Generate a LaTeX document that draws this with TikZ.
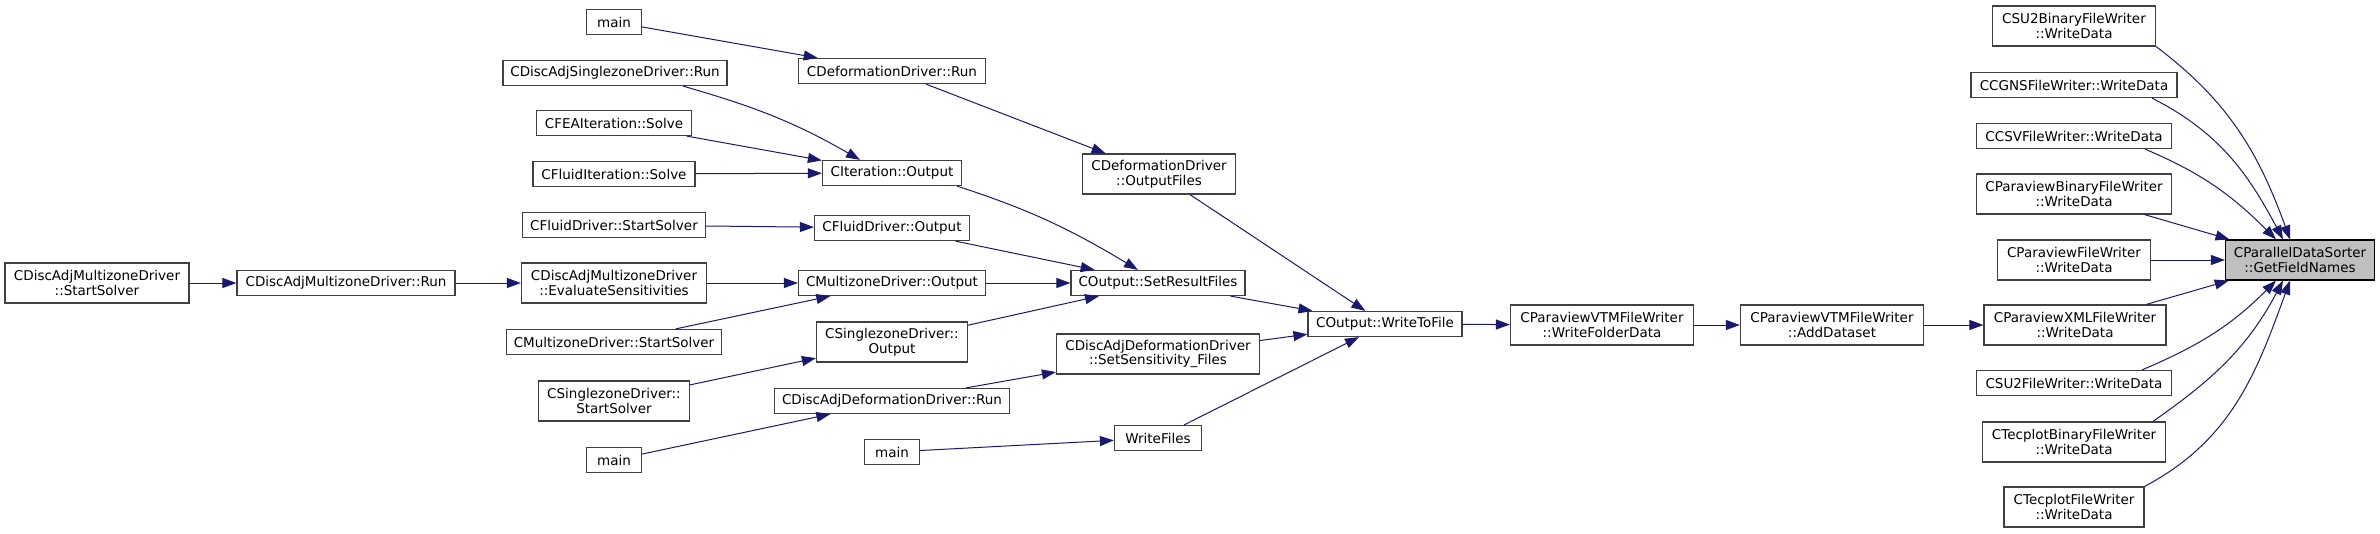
\documentclass[tikz,border=0pt]{standalone}
\usepackage{fontspec}
\setmainfont{DejaVu Sans}
\usetikzlibrary{arrows.meta}
\definecolor{edgeblue}{RGB}{25,25,112}
\definecolor{boxline}{RGB}{64,64,64}
\definecolor{boxgray}{RGB}{191,191,191}

\begin{document}
\begin{tikzpicture}[
    x=1pt, y=-1pt,
    fn/.style={rectangle,draw=boxline,fill=white,line width=1.2pt,inner sep=0pt,
      minimum height=25,align=center,font=\fontsize{13.5}{14.7}\selectfont},
    two/.style={minimum height=40},
    cur/.style={fn,two,fill=boxgray,draw=black},
    arrow/.style={-{Triangle[length=14pt,width=10pt,fill=edgeblue]},draw=edgeblue,line width=1pt}
  ]
    \useasboundingbox (0,0) rectangle (2380,533);
    % leftmost callers
    \node[fn,two,minimum width=184] (damstart) at (97,283) {CDiscAdjMultizoneDriver\\::StartSolver};
    \node[fn,minimum width=218] (damrun) at (346,283) {CDiscAdjMultizoneDriver::Run};
    \node[fn,minimum width=55] (mainA) at (614,22) {main};
    \node[fn,minimum width=224] (dasrun) at (615,73) {CDiscAdjSinglezoneDriver::Run};
    \node[fn,minimum width=155] (feasolve) at (614,123) {CFEAIteration::Solve};
    \node[fn,minimum width=162] (fluidsolve) at (614,174) {CFluidIteration::Solve};
    \node[fn,minimum width=183] (fluidstart) at (614,225) {CFluidDriver::StartSolver};
    \node[fn,two,minimum width=185] (dameval) at (614,283) {CDiscAdjMultizoneDriver\\::EvaluateSensitivities};
    \node[fn,minimum width=215] (mzstart) at (614,342) {CMultizoneDriver::StartSolver};
    \node[fn,two,minimum width=151] (szstart) at (614,401) {CSinglezoneDriver::\\StartSolver};
    \node[fn,minimum width=55] (mainB) at (614,460) {main};
    % drivers
    \node[fn,minimum width=187] (defrun) at (892,71) {CDeformationDriver::Run};
    \node[fn,minimum width=139] (iterout) at (892,173) {CIteration::Output};
    \node[fn,minimum width=155] (fluidout) at (892,228) {CFluidDriver::Output};
    \node[fn,minimum width=187] (mzout) at (892,283) {CMultizoneDriver::Output};
    \node[fn,two,minimum width=151] (szout) at (892,342) {CSinglezoneDriver::\\Output};
    \node[fn,minimum width=235] (dadrun) at (892,401) {CDiscAdjDeformationDriver::Run};
    \node[fn,minimum width=55] (mainC) at (892,452) {main};
    % output
    \node[fn,two,minimum width=153] (defout) at (1159,174) {CDeformationDriver\\::OutputFiles};
    \node[fn,minimum width=174] (setres) at (1158,283) {COutput::SetResultFiles};
    \node[fn,two,minimum width=203] (setsens) at (1158,354) {CDiscAdjDeformationDriver\\::SetSensitivity\_Files};
    \node[fn,minimum width=87] (writefiles) at (1158,438) {WriteFiles};
    \node[fn,minimum width=154] (writeto) at (1385,324) {COutput::WriteToFile};
    \node[fn,two,minimum width=183] (vtmfolder) at (1602,325) {CParaviewVTMFileWriter\\::WriteFolderData};
    \node[fn,two,minimum width=183] (vtmadd) at (1832,325) {CParaviewVTMFileWriter\\::AddDataset};
    % file writers
    \node[fn,two,minimum width=163] (su2bin) at (2074,26) {CSU2BinaryFileWriter\\::WriteData};
    \node[fn,minimum width=206] (cgns) at (2074,85) {CCGNSFileWriter::WriteData};
    \node[fn,minimum width=195] (csv) at (2074,136) {CCSVFileWriter::WriteData};
    \node[fn,two,minimum width=195] (pvbin) at (2074,194) {CParaviewBinaryFileWriter\\::WriteData};
    \node[fn,two,minimum width=153] (pvfile) at (2074,260) {CParaviewFileWriter\\::WriteData};
    \node[fn,two,minimum width=182] (xmlwrite) at (2075,325) {CParaviewXMLFileWriter\\::WriteData};
    \node[fn,minimum width=195] (su2file) at (2074,383) {CSU2FileWriter::WriteData};
    \node[fn,two,minimum width=183] (tecbin) at (2074,442) {CTecplotBinaryFileWriter\\::WriteData};
    \node[fn,two,minimum width=140] (tecfile) at (2074,507) {CTecplotFileWriter\\::WriteData};
    \node[cur,minimum width=149] (getfields) at (2300,260) {CParallelDataSorter\\::GetFieldNames};
    % calls
    \draw[arrow] (damstart) -- (damrun);
    \draw[arrow] (damrun) -- (dameval);
    \draw[arrow] (mainA) -- (defrun);
    \draw[arrow] ([xshift=68]dasrun.south) to[out=-16,in=150] ([xshift=-32]iterout.north);
    \draw[arrow] (feasolve) -- (iterout);
    \draw[arrow] (fluidsolve) -- (iterout);
    \draw[arrow] (fluidstart) -- (fluidout);
    \draw[arrow] (dameval) -- (mzout);
    \draw[arrow] (mzstart) -- (mzout);
    \draw[arrow] (szstart) -- (szout);
    \draw[arrow] (mainB) -- (dadrun);
    \draw[arrow] (defrun) -- (defout);
    \draw[arrow] ([xshift=-5]iterout.south east) to[out=-18,in=149] ([xshift=-20]setres.north);
    \draw[arrow] (fluidout) -- (setres);
    \draw[arrow] (mzout) -- (setres);
    \draw[arrow] (szout) -- (setres);
    \draw[arrow] (dadrun) -- (setsens);
    \draw[arrow] (mainC) -- (writefiles);
    \draw[arrow] (defout) -- (writeto);
    \draw[arrow] (setres) -- (writeto);
    \draw[arrow] (setsens) -- (writeto);
    \draw[arrow] (writefiles) -- (writeto);
    \draw[arrow] (writeto) -- (vtmfolder);
    \draw[arrow] (vtmfolder) -- (vtmadd);
    \draw[arrow] (vtmadd) -- (xmlwrite);
    % writers to the sorter
    \draw[arrow] (su2bin.south east) to[out=-37,in=110] ([xshift=-10]getfields.north);
    \draw[arrow] ([xshift=78]cgns.south) to[out=-27,in=118] ([xshift=-17]getfields.north);
    \draw[arrow] ([xshift=71]csv.south) to[out=-23,in=135] ([xshift=-24]getfields.north);
    \draw[arrow] (pvbin) -- (getfields);
    \draw[arrow] (pvfile) -- (getfields);
    \draw[arrow] (xmlwrite) -- (getfields);
    \draw[arrow] ([xshift=68]su2file.north) to[out=23,in=-135] ([xshift=-24]getfields.south);
    \draw[arrow] ([xshift=79]tecbin.north) to[out=35,in=-118] ([xshift=-17]getfields.south);
    \draw[arrow] (tecfile.north east) to[out=28,in=-110] ([xshift=-10]getfields.south);
  \end{tikzpicture}
\end{document}
